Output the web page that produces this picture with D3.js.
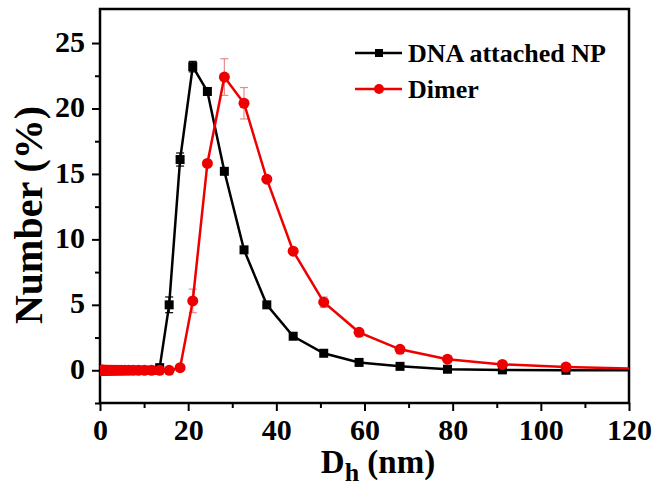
<!DOCTYPE html>
<html>
<head>
<meta charset="utf-8">
<script src="https://cdn.jsdelivr.net/npm/d3@7"></script>
<style>
  body { margin: 0; background: #fff; }
  text { font-family: "Liberation Serif", "Times New Roman", serif; font-weight: bold; }
</style>
</head>
<body>
<svg id="chart" width="659" height="486"></svg>
<script>
// DLS size bins (nm)
var sizes = [0.4, 0.4632, 0.5365, 0.6213, 0.7195, 0.8332, 0.9649, 1.117, 1.294, 1.499,
  1.736, 2.01, 2.328, 2.696, 3.122, 3.615, 4.187, 4.849, 5.615, 6.503, 7.531, 8.721,
  10.1, 11.7, 13.54, 15.69, 18.17, 21.04, 24.36, 28.21, 32.67, 37.84, 43.82, 50.75,
  58.77, 68.06, 78.82, 91.28, 105.7, 122.4];

var npValues = [0, 0, 0, 0, 0, 0, 0, 0, 0, 0,
  0, 0, 0, 0, 0, 0, 0, 0, 0, 0, 0, 0,
  0, 0, 0.2, 5.0, 16.1, 23.2, 21.3, 15.2, 9.2, 5.0, 2.6, 1.3,
  0.6, 0.3, 0.08, 0.03, 0.0, 0.0];
var npErrors = [0, 0, 0, 0, 0, 0, 0, 0, 0, 0,
  0, 0, 0, 0, 0, 0, 0, 0, 0, 0, 0, 0,
  0, 0, 0, 0.6, 0.5, 0.4, 0.2, 0, 0, 0, 0, 0,
  0, 0, 0, 0, 0, 0];

var dimerValues = [0, 0, 0, 0, 0, 0, 0, 0, 0, 0,
  0, 0, 0, 0, 0, 0, 0, 0, 0, 0, 0, 0,
  0, 0, 0, 0, 0.2, 5.3, 15.8, 22.4, 20.4, 14.6, 9.1, 5.2,
  2.9, 1.6, 0.85, 0.45, 0.25, 0.12];
var dimerErrors = [0, 0, 0, 0, 0, 0, 0, 0, 0, 0,
  0, 0, 0, 0, 0, 0, 0, 0, 0, 0, 0, 0,
  0, 0, 0, 0, 0, 0.9, 0.2, 1.4, 1.2, 0.2, 0.2, 0.4,
  0.2, 0, 0, 0, 0, 0];

var seriesNames = ['DNA attached NP', 'Dimer'];
var xMajor = [0, 20, 40, 60, 80, 100, 120];
var xMinor = [10, 30, 50, 70, 90, 110];
var yMajor = [0, 5, 10, 15, 20, 25];
var yMinor = [-2.5, 2.5, 7.5, 12.5, 17.5, 22.5];

var svg = d3.select('#chart');
var pLeft = 100, pRight = 629, pTop = 9, pBottom = 403;

var x = d3.scaleLinear().domain([0, 120]).range([pLeft, pRight]);
var y = d3.scaleLinear().domain([-2.5, 27.6]).range([pBottom, pTop]);

svg.append('defs').append('clipPath').attr('id', 'plot')
  .append('rect').attr('x', pLeft).attr('y', pTop)
  .attr('width', pRight - pLeft).attr('height', pBottom - pTop);

// minor ticks
svg.append('g').attr('transform', 'translate(0,' + pBottom + ')')
  .call(d3.axisBottom(x).tickValues(xMinor).tickSize(5).tickFormat(''))
  .call(function(g) { g.select('.domain').remove(); g.selectAll('line').attr('stroke-width', 2); });
svg.append('g').attr('transform', 'translate(' + pLeft + ',0)')
  .call(d3.axisLeft(y).tickValues(yMinor).tickSize(5).tickFormat(''))
  .call(function(g) { g.select('.domain').remove(); g.selectAll('line').attr('stroke-width', 2); });

// major ticks
var xAxis = svg.append('g').attr('transform', 'translate(0,' + pBottom + ')')
  .call(d3.axisBottom(x).tickValues(xMajor).tickSize(8).tickPadding(8));
xAxis.select('.domain').remove();
xAxis.selectAll('line').attr('stroke-width', 2);
xAxis.selectAll('text').attr('font-size', 30).attr('fill', '#000')
  .style('font-family', '"Liberation Serif", serif').style('font-weight', 'bold');

var yAxis = svg.append('g').attr('transform', 'translate(' + pLeft + ',0)')
  .call(d3.axisLeft(y).tickValues(yMajor).tickSize(8).tickPadding(7));
yAxis.select('.domain').remove();
yAxis.selectAll('line').attr('stroke-width', 2);
yAxis.selectAll('text').attr('font-size', 30).attr('fill', '#000').attr('dy', '0.27em')
  .style('font-family', '"Liberation Serif", serif').style('font-weight', 'bold');

// frame
svg.append('rect').attr('x', pLeft).attr('y', pTop)
  .attr('width', pRight - pLeft).attr('height', pBottom - pTop)
  .attr('fill', 'none').attr('stroke', '#000').attr('stroke-width', 2.5);

var plot = svg.append('g').attr('clip-path', 'url(#plot)');

function drawSeries(values, errors, color, errColor, shape) {
  var pts = sizes.map(function(s, i) { return { x: s, y: values[i], e: errors[i] }; });
  var g = plot.append('g');

  var bars = g.selectAll('.err').data(pts.filter(function(d) { return d.e > 0; }))
    .enter().append('g').attr('stroke', errColor).attr('stroke-width', 1.2);
  bars.append('line')
    .attr('x1', function(d) { return x(d.x); }).attr('x2', function(d) { return x(d.x); })
    .attr('y1', function(d) { return y(d.y - d.e); }).attr('y2', function(d) { return y(d.y + d.e); });
  [1, -1].forEach(function(sign) {
    bars.append('line')
      .attr('x1', function(d) { return x(d.x) - 4; }).attr('x2', function(d) { return x(d.x) + 4; })
      .attr('y1', function(d) { return y(d.y + sign * d.e); })
      .attr('y2', function(d) { return y(d.y + sign * d.e); });
  });

  g.append('path').datum(pts)
    .attr('fill', 'none').attr('stroke', color).attr('stroke-width', 2.5)
    .attr('d', d3.line().x(function(d) { return x(d.x); }).y(function(d) { return y(d.y); }));

  if (shape === 'square') {
    g.selectAll('.m').data(pts).enter().append('rect')
      .attr('x', function(d) { return x(d.x) - 4.5; })
      .attr('y', function(d) { return y(d.y) - 4.5; })
      .attr('width', 9).attr('height', 9).attr('fill', color);
  } else {
    g.selectAll('.m').data(pts).enter().append('circle')
      .attr('cx', function(d) { return x(d.x); })
      .attr('cy', function(d) { return y(d.y); })
      .attr('r', 5.5).attr('fill', color);
  }
}

drawSeries(npValues, npErrors, '#000', '#000', 'square');
drawSeries(dimerValues, dimerErrors, '#ee0000', '#e88a8a', 'circle');

// legend
var legend = svg.append('g');
var legendItems = [
  { name: seriesNames[0], color: '#000', shape: 'square', y: 53 },
  { name: seriesNames[1], color: '#ee0000', shape: 'circle', y: 89 }
];
legendItems.forEach(function(it) {
  legend.append('line').attr('x1', 355).attr('x2', 402).attr('y1', it.y).attr('y2', it.y)
    .attr('stroke', it.color).attr('stroke-width', 2.5);
  if (it.shape === 'square') {
    legend.append('rect').attr('x', 375).attr('y', it.y - 4).attr('width', 8).attr('height', 8).attr('fill', it.color);
  } else {
    legend.append('circle').attr('cx', 379).attr('cy', it.y).attr('r', 5).attr('fill', it.color);
  }
  legend.append('text').attr('x', 408).attr('y', it.y + 9).attr('font-size', 26).text(it.name);
});

// axis titles
var xt = svg.append('text').attr('x', 378).attr('y', 473).attr('text-anchor', 'middle').attr('font-size', 33);
xt.append('tspan').text('D');
xt.append('tspan').attr('font-size', 26).attr('dy', 8).text('h');
xt.append('tspan').attr('dy', -8).text(' (nm)');

svg.append('text').attr('transform', 'translate(42,215) rotate(-90)')
  .attr('text-anchor', 'middle').attr('font-size', 40).text('Number (%)');
</script>
</body>
</html>
